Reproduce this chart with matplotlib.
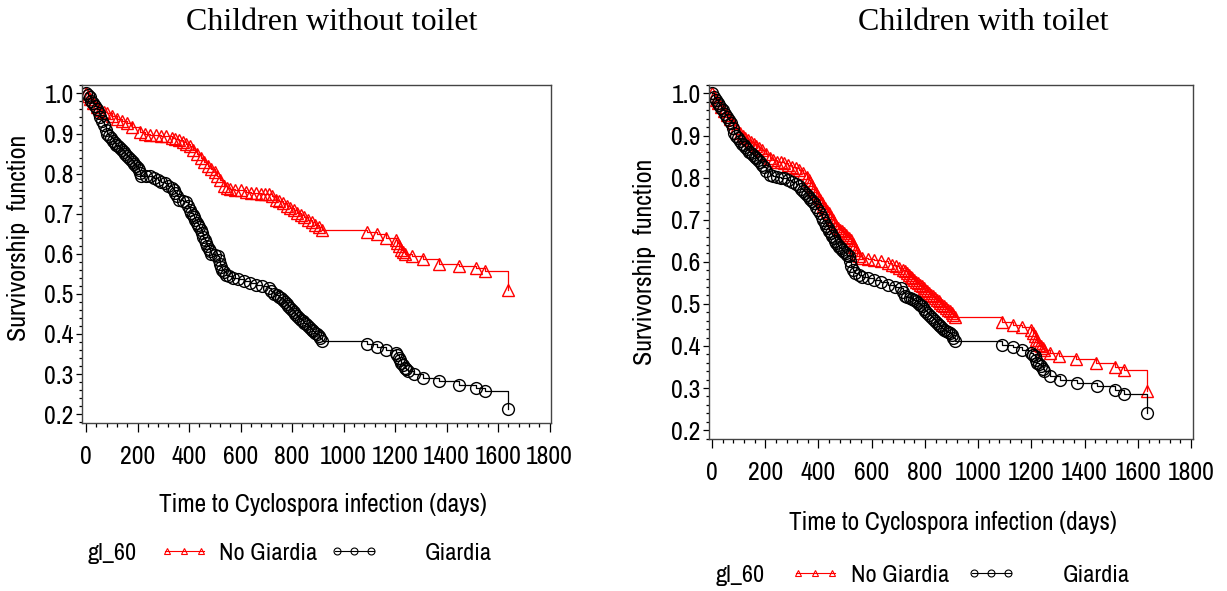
import matplotlib
matplotlib.use('Agg')
import matplotlib.pyplot as plt
from matplotlib import font_manager as fm
from matplotlib.lines import Line2D
from matplotlib.ticker import MultipleLocator, FormatStrFormatter

W, H = 1227, 591

# look for a narrow sans face, the reference uses a condensed Arial-like font
cands = []
for f in fm.fontManager.ttflist:
    nm = f.name + ' ' + str(f.stretch) + ' ' + f.fname
    if f.style != 'normal' or f.weight not in (400, 'normal', 'regular'):
        continue
    low = nm.lower()
    if 'narrow' in low:
        cands.append((0, f))
    elif 'condensed' in low and 'semi' not in low and 'extra' not in low and 'mono' not in low:
        cands.append((1, f))
cands.sort(key=lambda c: c[0])
narrow_file = cands[0][1].fname if cands else None


def fp(size):
    if narrow_file:
        return fm.FontProperties(fname=narrow_file, size=size)
    return fm.FontProperties(family='Liberation Sans', size=size)


# Children without toilet
t_no_l = [0, 7, 14, 28, 42, 56, 70, 83, 100, 120, 140, 160, 180, 208, 230, 250, 270, 290,
          310, 333, 345, 360, 375, 389, 403, 417, 431, 445, 459, 473, 487, 500, 510,
          521, 535, 548, 560, 580, 600, 620, 640, 660, 680, 695, 710, 723, 737, 751, 765,
          779, 792, 806, 820, 834, 848, 862, 876, 890, 904, 917,
          1091, 1129, 1165, 1202, 1209, 1216, 1223, 1230, 1237, 1265, 1309, 1369, 1446,
          1515, 1550, 1637]
s_no_l = [1.0, 0.993, 0.985, 0.975, 0.965, 0.958, 0.953, 0.95, 0.943, 0.935, 0.93, 0.925,
          0.916, 0.905, 0.9, 0.897, 0.896, 0.895, 0.893, 0.89, 0.887, 0.883, 0.879, 0.875,
          0.868, 0.86, 0.85, 0.84, 0.83, 0.82, 0.812, 0.805, 0.795, 0.785, 0.77, 0.765,
          0.762, 0.76, 0.758, 0.755, 0.752, 0.751, 0.75, 0.749, 0.748, 0.743, 0.735, 0.732,
          0.727, 0.719, 0.714, 0.71, 0.702, 0.697, 0.693, 0.684, 0.679, 0.672, 0.667, 0.66,
          0.655, 0.65, 0.64, 0.635, 0.628, 0.62, 0.61, 0.605, 0.60, 0.594, 0.587, 0.575,
          0.569, 0.565, 0.556, 0.51]
t_g_l = [0, 7, 14, 21, 28, 35, 42, 49, 56, 63, 70, 76, 83, 90, 97, 104, 111, 118, 125, 132,
         139, 146, 153, 160, 167, 174, 181, 188, 195, 200, 205, 210, 215, 232,
         250, 264, 278, 292, 306, 320, 333, 340, 347, 354, 361, 375, 389, 396, 403, 408,
         414, 419, 424, 430, 435, 440, 445, 451, 456, 461, 466, 471, 476, 481, 486, 500,
         514, 517, 521, 524, 528, 535, 542, 556, 570, 591, 612, 636, 660, 685, 709, 719,
         730, 740, 750, 758, 765, 772, 780, 786, 792, 799, 806, 813, 820, 827, 834, 841,
         848, 855, 862, 869, 876, 883, 890, 897, 904, 910, 917, 1091, 1129, 1165, 1202,
         1209, 1216, 1220, 1223, 1230, 1237, 1244, 1251, 1272, 1309, 1369, 1446, 1515,
         1550, 1637]
s_g_l = [1.0, 0.995, 0.99, 0.982, 0.975, 0.968, 0.96, 0.951, 0.942, 0.931, 0.92, 0.91,
         0.90, 0.894, 0.888, 0.882, 0.876, 0.872, 0.868, 0.863, 0.859, 0.853, 0.848, 0.843,
         0.838, 0.833, 0.828, 0.823, 0.818, 0.813, 0.808, 0.801, 0.794, 0.794, 0.793,
         0.789, 0.784, 0.78, 0.776, 0.77, 0.764, 0.758, 0.752, 0.744, 0.735, 0.732, 0.73,
         0.72, 0.71, 0.703, 0.697, 0.691, 0.685, 0.678, 0.672, 0.666, 0.66, 0.651, 0.643,
         0.635, 0.627, 0.62, 0.613, 0.606, 0.60, 0.597, 0.594, 0.585, 0.575, 0.567, 0.56,
         0.554, 0.548, 0.544, 0.54, 0.536, 0.532, 0.527, 0.523, 0.519, 0.515, 0.508, 0.50,
         0.496, 0.492, 0.489, 0.486, 0.48, 0.475, 0.47, 0.465, 0.46, 0.455, 0.449, 0.444,
         0.44, 0.436, 0.432, 0.428, 0.424, 0.42, 0.415, 0.411, 0.407, 0.403, 0.399, 0.395,
         0.389, 0.382, 0.374, 0.368, 0.36, 0.353, 0.347, 0.34, 0.334, 0.328, 0.322, 0.316,
         0.312, 0.308, 0.30, 0.291, 0.283, 0.274, 0.266, 0.258, 0.212]

# Children with toilet
t_no_r = [0, 7, 14, 24, 35, 45, 56, 66, 77, 91, 105, 115, 125, 135, 146, 156, 167, 177,
          188, 202, 216, 230, 244, 258, 272, 286, 300, 314, 328, 342, 356, 363, 370, 377,
          384, 391, 398, 405, 412, 418, 425, 432, 439, 446, 453, 460, 467, 474, 481, 488,
          495, 502, 509, 516, 523, 529, 535, 540, 544, 554, 565, 586, 607, 635, 663, 676,
          690, 704, 718, 725, 732, 739, 746, 753, 760, 767, 774, 781, 788, 795, 802, 809,
          816, 823, 830, 837, 844, 851, 858, 865, 872, 879, 886, 893, 900, 907, 914,
          1088, 1130, 1165, 1200, 1207, 1214, 1218, 1221, 1228, 1235, 1242, 1249, 1269,
          1304, 1367, 1444, 1514, 1548, 1636]
s_no_r = [1.0, 0.993, 0.985, 0.977, 0.968, 0.958, 0.948, 0.939, 0.929, 0.917, 0.905, 0.9,
          0.895, 0.89, 0.885, 0.88, 0.875, 0.871, 0.866, 0.856, 0.846, 0.842, 0.838, 0.836,
          0.834, 0.83, 0.826, 0.822, 0.818, 0.81, 0.802, 0.795, 0.787, 0.779, 0.771, 0.763,
          0.755, 0.747, 0.739, 0.733, 0.727, 0.721, 0.715, 0.707, 0.70, 0.692, 0.684, 0.68,
          0.676, 0.672, 0.668, 0.664, 0.66, 0.656, 0.652, 0.643, 0.635, 0.627, 0.62, 0.614,
          0.609, 0.607, 0.605, 0.601, 0.597, 0.593, 0.589, 0.585, 0.581, 0.577, 0.573,
          0.569, 0.565, 0.561, 0.557, 0.553, 0.549, 0.545, 0.542, 0.538, 0.534, 0.53, 0.526,
          0.522, 0.518, 0.514, 0.51, 0.506, 0.502, 0.498, 0.494, 0.49, 0.486, 0.482, 0.478,
          0.474, 0.47, 0.458, 0.45, 0.445, 0.439, 0.431, 0.423, 0.415, 0.407, 0.403, 0.40,
          0.395, 0.391, 0.383, 0.375, 0.368, 0.36, 0.35, 0.344, 0.292]
# (day, survival) pairs for the Giardia group with toilet
g_r = [(0, 1.0), (7, 0.992), (14, 0.984), (21, 0.978), (28, 0.972), (35, 0.966), (42, 0.96),
       (49, 0.952), (56, 0.945), (63, 0.937), (70, 0.929), (77, 0.917), (84, 0.905),
       (91, 0.899), (98, 0.893), (105, 0.887), (112, 0.881), (119, 0.877), (125, 0.872),
       (132, 0.867), (139, 0.862), (146, 0.858), (153, 0.854), (160, 0.85), (167, 0.846),
       (174, 0.841), (181, 0.836), (188, 0.831), (195, 0.826), (202, 0.816), (216, 0.806),
       (230, 0.804), (244, 0.802), (258, 0.8), (272, 0.798), (286, 0.794), (300, 0.79),
       (314, 0.785), (328, 0.779), (335, 0.774), (342, 0.769), (349, 0.764), (356, 0.759),
       (363, 0.754), (370, 0.749), (377, 0.744), (384, 0.739), (391, 0.731), (398, 0.723),
       (405, 0.715), (412, 0.707), (418, 0.70), (425, 0.692), (430, 0.686), (436, 0.68),
       (441, 0.674), (446, 0.668), (451, 0.662), (457, 0.656), (462, 0.65), (467, 0.644),
       (472, 0.64), (478, 0.636), (483, 0.632), (488, 0.628), (495, 0.624), (502, 0.62),
       (509, 0.617), (516, 0.613), (520, 0.601), (523, 0.589), (530, 0.581), (537, 0.573),
       (551, 0.569), (565, 0.565), (586, 0.561), (607, 0.557), (635, 0.551), (663, 0.545),
       (687, 0.541), (711, 0.538), (718, 0.528), (725, 0.518), (733, 0.516), (742, 0.514),
       (751, 0.512), (760, 0.51), (767, 0.506), (774, 0.502), (781, 0.498), (788, 0.494),
       (795, 0.489), (802, 0.484), (809, 0.479), (816, 0.474), (823, 0.469), (830, 0.464),
       (837, 0.46), (844, 0.455), (851, 0.451), (858, 0.447), (865, 0.443), (872, 0.439),
       (879, 0.436), (886, 0.433), (893, 0.43), (900, 0.427), (907, 0.419), (914, 0.411),
       (1088, 0.403), (1130, 0.398), (1165, 0.391), (1200, 0.383), (1207, 0.379),
       (1214, 0.375), (1218, 0.367), (1221, 0.36), (1228, 0.356), (1235, 0.352),
       (1242, 0.346), (1249, 0.34), (1269, 0.328), (1307, 0.32), (1370, 0.312),
       (1446, 0.304), (1514, 0.295), (1548, 0.287), (1636, 0.24)]
t_g_r = [p[0] for p in g_r]
s_g_r = [p[1] for p in g_r]

fig = plt.figure(figsize=(12.27, 5.91), dpi=100)


def fx(px):
    return px / W


def fy(py):
    return 1 - py / H


def panel(left, top, right, bottom, xlim, ylim, t_no, s_no, t_g, s_g):
    ax = fig.add_axes([fx(left), fy(bottom), fx(right) - fx(left), fy(top) - fy(bottom)])
    ax.step(t_no, s_no, where='post', color='red', lw=0.9)
    ax.plot(t_no, s_no, ls='none', marker='^', ms=8.5, mfc='none', mec='red', mew=1.0)
    ax.step(t_g, s_g, where='post', color='black', lw=0.9)
    ax.plot(t_g, s_g, ls='none', marker='o', ms=8.5, mfc='none', mec='black', mew=1.0)
    ax.set_xlim(xlim)
    ax.set_ylim(ylim)
    ax.xaxis.set_major_locator(MultipleLocator(200))
    ax.xaxis.set_minor_locator(MultipleLocator(40))
    ax.yaxis.set_major_locator(MultipleLocator(0.1))
    ax.yaxis.set_minor_locator(MultipleLocator(0.02))
    ax.yaxis.set_major_formatter(FormatStrFormatter('%.1f'))
    for sp in ax.spines.values():
        sp.set_color('#444444')
        sp.set_linewidth(1)
    ax.tick_params(axis='x', which='major', length=6.5, width=0.9, pad=9)
    ax.tick_params(axis='x', which='minor', length=3, width=0.9)
    ax.tick_params(axis='y', which='major', length=4, width=0.9, pad=2)
    ax.tick_params(axis='y', which='minor', length=2.4, width=0.9)
    for lab in ax.get_xticklabels() + ax.get_yticklabels():
        lab.set_fontproperties(fp(18.5))
    return ax


panel(82, 85, 551, 423, (-15.5, 1805), (0.178, 1.021), t_no_l, s_no_l, t_g_l, s_g_l)
panel(709, 85, 1193, 439, (-11.3, 1807), (0.179, 1.02), t_no_r, s_no_r, t_g_r, s_g_r)

serif = ['Liberation Serif', 'DejaVu Serif']
fig.text(fx(332), fy(22), 'Children without toilet', family=serif, size=23, ha='center', va='center')
fig.text(fx(983), fy(22), 'Children with toilet', family=serif, size=23, ha='center', va='center')

fig.text(fx(19), fy(238), 'Survivorship  function', rotation=90, fontproperties=fp(18.7),
         ha='center', va='center')
fig.text(fx(645), fy(262), 'Survivorship  function', rotation=90, fontproperties=fp(18.7),
         ha='center', va='center')
fig.text(fx(323), fy(505), 'Time to Cyclospora infection (days)', fontproperties=fp(18.2),
         ha='center', va='center')
fig.text(fx(953), fy(522), 'Time to Cyclospora infection (days)', fontproperties=fp(18.2),
         ha='center', va='center')


def legend(y, x_gl, x_red, x_no, x_blk, x_g):
    fig.text(fx(x_gl), fy(y + 2), 'gl_60', fontproperties=fp(17.5), ha='left', va='center')
    xs = [x_red, x_red + 17, x_red + 34]
    fig.add_artist(Line2D([fx(x_red - 2), fx(x_red + 37)], [fy(y), fy(y)], color='red', lw=0.8,
                          transform=fig.transFigure))
    fig.add_artist(Line2D([fx(v) for v in xs], [fy(y)] * 3, ls='none', marker='^', ms=5,
                          mfc='none', mec='red', mew=0.8, transform=fig.transFigure))
    fig.text(fx(x_no), fy(y + 2), 'No Giardia', fontproperties=fp(17.5), ha='left', va='center')
    xs = [x_blk, x_blk + 17, x_blk + 34]
    fig.add_artist(Line2D([fx(x_blk - 2), fx(x_blk + 37)], [fy(y), fy(y)], color='black', lw=0.8,
                          transform=fig.transFigure))
    fig.add_artist(Line2D([fx(v) for v in xs], [fy(y)] * 3, ls='none', marker='o', ms=5,
                          mfc='none', mec='black', mew=0.8, transform=fig.transFigure))
    fig.text(fx(x_g), fy(y + 2), 'Giardia', fontproperties=fp(17.5), ha='left', va='center')


legend(551, 88, 167, 219, 337, 425)
legend(573, 716, 798, 851, 974, 1063)

fig.savefig('out.png', dpi=100)
